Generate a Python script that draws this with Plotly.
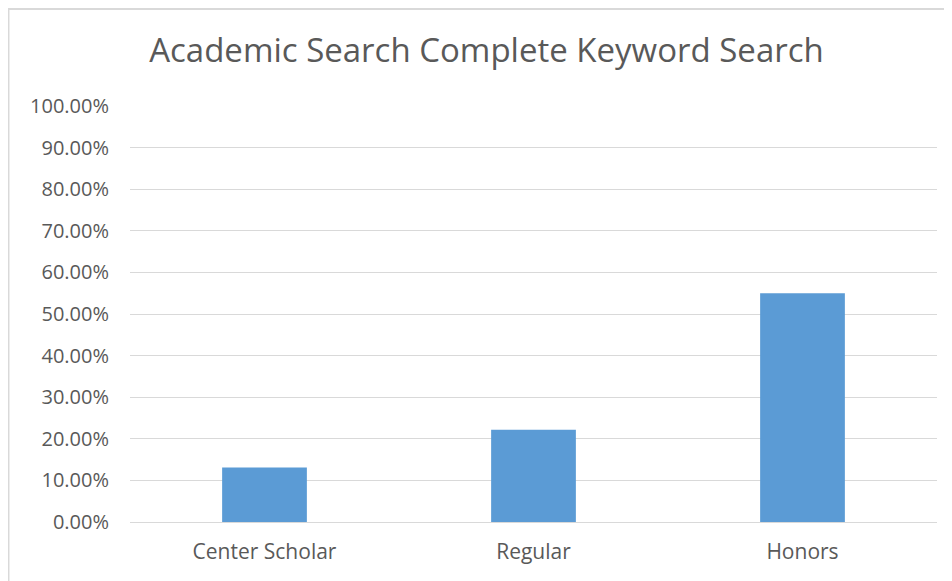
import plotly.graph_objects as go

categories = ["Center Scholar", "Regular", "Honors"]
values = [0.131, 0.222, 0.55]
tick_vals = [i / 10 for i in range(11)]
tick_text = [f"{v*100:.2f}%" for v in tick_vals]

fig = go.Figure()
fig.add_trace(go.Bar(x=categories, y=values, marker=dict(color="#5b9bd5", line=dict(width=0)), width=0.315))

font_family = "Open Sans, Lato, sans-serif"
fig.update_layout(
    width=952, height=581,
    margin=dict(l=122, r=23, t=98, b=67),
    paper_bgcolor="white", plot_bgcolor="white",
    showlegend=False,
    title=dict(text="Academic Search Complete Keyword Search", x=0.5026, xanchor="center",
               y=1 - 42/581, yanchor="middle",
               font=dict(family=font_family, size=33, color="#595959")),
    font=dict(family=font_family, color="#595959"),
)
fig.update_xaxes(range=[-0.5, 2.5], showline=True, linecolor="#d9d9d9", linewidth=1,
                 ticks="", tickfont=dict(size=21, color="#595959"), showgrid=False,
                 ticklabelstandoff=11)
fig.update_yaxes(range=[0, 1], tickvals=tick_vals, ticktext=tick_text, showgrid=True,
                 gridcolor="#d9d9d9", gridwidth=1, zeroline=False, showline=False,
                 tickfont=dict(size=20, color="#595959"), ticks="", ticklabelstandoff=20)

# chart border (left and top edges visible)
fig.add_shape(type="path", xref="paper", yref="paper",
              path="M -0.1506 -0.3 L -0.1506 1.2332 L 1.1 1.2332",
              line=dict(color="#d9d9d9", width=2))

fig.write_html("out.html")
